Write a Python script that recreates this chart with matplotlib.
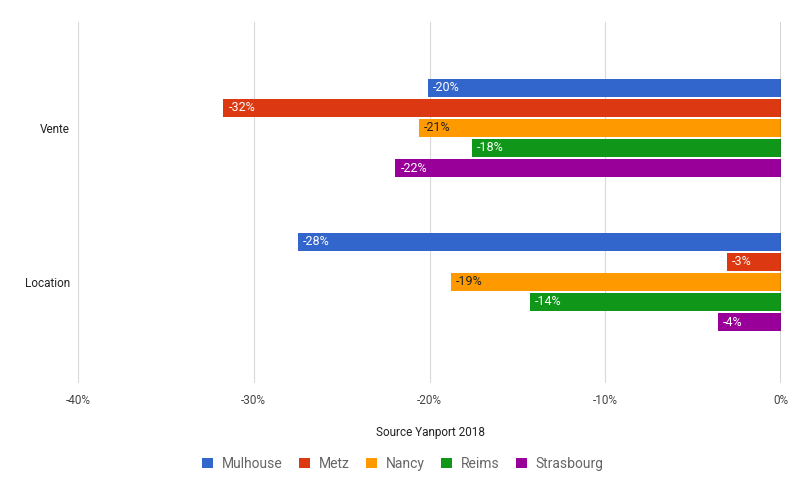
import matplotlib.pyplot as plt
import numpy as np

plt.rcParams['font.family'] = ['Roboto', 'DejaVu Sans']

categories = ['Vente', 'Location']
cities = ['Mulhouse', 'Metz', 'Nancy', 'Reims', 'Strasbourg']
colors = ['#3366cc', '#dc3912', '#ff9900', '#109618', '#990099']
label_colors = ['white', 'white', '#222222', 'white', 'white']

# values in %, per city: [Vente, Location]
mulhouse = [-20.1, -27.5]
metz = [-31.75, -3.1]
nancy = [-20.6, -18.8]
reims = [-17.6, -14.3]
strasbourg = [-21.95, -3.6]
series = [mulhouse, metz, nancy, reims, strasbourg]

xticks = [-40, -30, -20, -10, 0]

fig = plt.figure(figsize=(8.06, 4.98), dpi=100)
ax = fig.add_axes([78 / 806, 1 - 383 / 498, 703 / 806, 361 / 498])

y_base = np.array([1.0, 0.0])
step = 0.13
height = 0.117
for i, (name, vals) in enumerate(zip(cities, series)):
    ys = y_base + (2 - i) * step
    ax.barh(ys, vals, height=height, color=colors[i], label=name, zorder=3)
    for y, v in zip(ys, vals):
        ax.text(v + 0.3, y, f'{round(v):d}%', va='center', ha='left',
                color=label_colors[i], fontsize=9, zorder=4)

ax.set_xlim(-40, 0)
ax.set_ylim(-0.656, 1.688)
ax.set_xticks(xticks)
ax.set_xticklabels([f'{t}%' for t in xticks], color='#444444', fontsize=8.5)
ax.set_yticks(y_base)
ax.set_yticklabels(categories, color='#222222', fontsize=8.5)
ax.tick_params(length=0, pad=8)
ax.tick_params(axis='y', pad=6)
ax.grid(axis='x', color='#d9d9d9', linewidth=0.8, zorder=0)
ax.axvline(0, color='#333333', linewidth=1, zorder=5)
for s in ax.spines.values():
    s.set_visible(False)

fig.text(430 / 806, 1 - 432 / 498, 'Source Yanport 2018', ha='center', va='center',
         fontsize=8.5, color='#222222')

handles, labels = ax.get_legend_handles_labels()
fig.legend(handles, labels, loc='center', bbox_to_anchor=(403 / 806, 1 - 464 / 498),
           ncol=5, frameon=False, fontsize=10, handlelength=0.8, handleheight=0.8,
           columnspacing=1.2, handletextpad=0.6, labelcolor='#666666')

fig.savefig('out.png', dpi=100)
